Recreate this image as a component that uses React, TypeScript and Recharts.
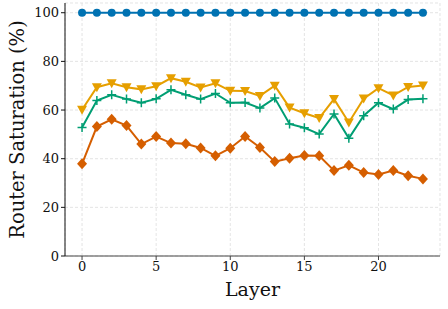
import React from "react";
import {
  LineChart,
  Line,
  XAxis,
  YAxis,
  CartesianGrid,
} from "recharts";

const layers = [
  0, 1, 2, 3, 4, 5, 6, 7, 8, 9, 10, 11, 12, 13, 14, 15, 16, 17, 18, 19, 20, 21,
  22, 23,
];
const blueSat = [
  100, 100, 100, 100, 100, 100, 100, 100, 100, 100, 100, 100, 100, 100, 100,
  100, 100, 100, 100, 100, 100, 100, 100, 100,
];
const orangeSat = [
  60.1, 69.4, 71, 69.4, 68.5, 69.8, 73.1, 71.6, 69.3, 71, 67.9, 67.8, 65.8, 70,
  61, 58.7, 56.7, 64.5, 54.9, 64.7, 69, 66, 69.5, 70.1,
];
const greenSat = [
  52.8, 63.9, 66.3, 64.5, 63, 64.6, 68.3, 66.3, 64.5, 66.8, 63, 63.1, 60.8,
  64.9, 54.3, 52.7, 50.1, 58.4, 48.4, 57.7, 63, 60.4, 64.3, 64.6,
];
const redSat = [
  37.9, 53.2, 56.2, 53.6, 46, 49.1, 46.4, 46.1, 44.4, 41.2, 44.3, 49.1, 44.6,
  38.8, 40.2, 41.3, 41.2, 35.1, 37.3, 34.3, 33.5, 35.1, 33, 31.7,
];
const xTicks = [0, 5, 10, 15, 20];
const yTicks = [0, 20, 40, 60, 80, 100];

const data = layers.map((l, i) => ({
  layer: l,
  blue: blueSat[i],
  orange: orangeSat[i],
  green: greenSat[i],
  red: redSat[i],
}));

const font = "'DejaVu Serif', serif";

const circleDot = (p: any) => (
  <circle key={p.index} cx={p.cx} cy={p.cy} r={4} fill="#0072B2" />
);
const triDot = (p: any) => (
  <path
    key={p.index}
    d={`M${p.cx - 5},${p.cy - 4} L${p.cx + 5},${p.cy - 4} L${p.cx},${p.cy + 5} Z`}
    fill="#E69F00"
  />
);
const plusDot = (p: any) => (
  <path
    key={p.index}
    d={`M${p.cx - 4.5},${p.cy} L${p.cx + 4.5},${p.cy} M${p.cx},${p.cy - 4.5} L${p.cx},${p.cy + 4.5}`}
    stroke="#009E73"
    strokeWidth={1.5}
    fill="none"
  />
);
const diamondDot = (p: any) => (
  <path
    key={p.index}
    d={`M${p.cx},${p.cy - 5.5} L${p.cx + 5},${p.cy} L${p.cx},${p.cy + 5.5} L${p.cx - 5},${p.cy} Z`}
    fill="#D55E00"
  />
);

export default function App() {
  return (
    <div style={{ position: "absolute", left: 0, top: 0, background: "#fff" }}>
      <LineChart
        width={448}
        height={309}
        data={data}
        margin={{ top: 3, right: 8, bottom: 0, left: 0 }}
      >
        <CartesianGrid
          stroke="#d8d8d8"
          strokeDasharray="3 2"
          strokeWidth={0.7}
        />
        <XAxis
          dataKey="layer"
          type="number"
          domain={[-1.15, 24.15]}
          ticks={xTicks}
          allowDataOverflow
          height={53}
          stroke="#444"
          tickSize={4}
          tick={{ fill: "#111", fontFamily: font, fontSize: 13 }}
          label={{
            value: "Layer",
            position: "insideBottom",
            offset: 13,
            fill: "#111",
            fontFamily: font,
            fontSize: 19,
          }}
        />
        <YAxis
          type="number"
          domain={[0, 104]}
          ticks={yTicks}
          allowDataOverflow
          width={65}
          stroke="#111"
          tickSize={4}
          tick={{ fill: "#111", fontFamily: font, fontSize: 13 }}
          label={{
            value: "Router Saturation (%)",
            angle: -90,
            position: "insideLeft",
            offset: 17,
            style: { textAnchor: "middle" },
            fill: "#111",
            fontFamily: font,
            fontSize: 19.5,
          }}
        />
        <Line
          dataKey="blue"
          stroke="#0072B2"
          strokeWidth={2}
          dot={circleDot}
          isAnimationActive={false}
        />
        <Line
          dataKey="orange"
          stroke="#E69F00"
          strokeWidth={2}
          dot={triDot}
          isAnimationActive={false}
        />
        <Line
          dataKey="green"
          stroke="#009E73"
          strokeWidth={2}
          dot={plusDot}
          isAnimationActive={false}
        />
        <Line
          dataKey="red"
          stroke="#D55E00"
          strokeWidth={2}
          dot={diamondDot}
          isAnimationActive={false}
        />
      </LineChart>
    </div>
  );
}
